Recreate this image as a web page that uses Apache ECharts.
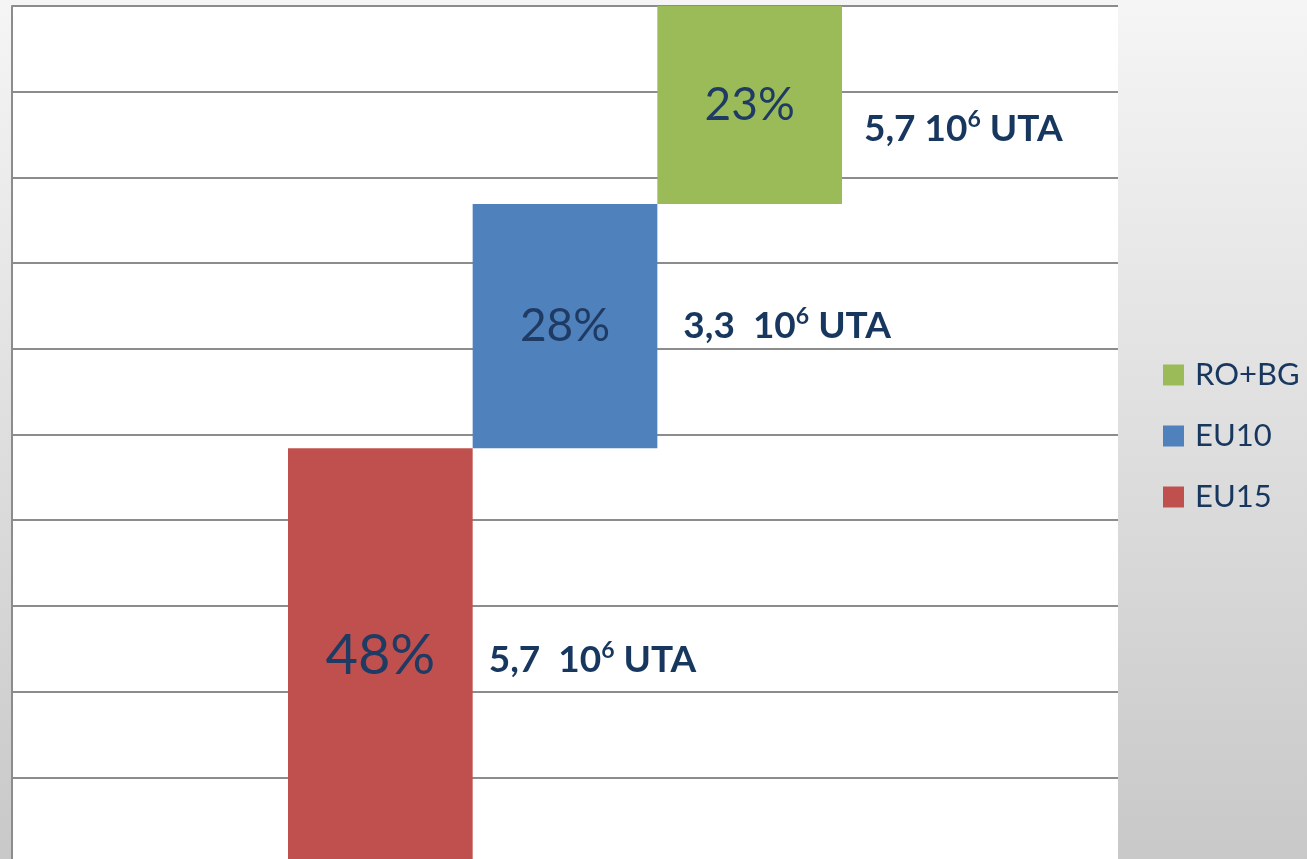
<!DOCTYPE html>
<html>
<head>
<meta charset="utf-8">
<script src="https://cdn.jsdelivr.net/npm/echarts@6/dist/echarts.min.js"></script>
<style>
html, body { margin: 0; padding: 0; overflow: hidden; }
#chart { width: 1307px; height: 863px; }
</style>
</head>
<body>
<div id="chart"></div>
<script>
// regions, bottom to top
var categories = ['EU15', 'EU10', 'RO+BG']
var shares = [48.4, 28.5, 23.1]
var shareLabels = ['48%', '28%', '23%']
var utaLabels = ['5,7  10', '3,3  10', '5,7 10']
var utaExponent = '6'
var utaUnit = ' UTA'
var legendOrder = ['RO+BG', 'EU10', 'EU15']

var colors = ['#c0504d', '#4f81bd', '#9bbb59']
var pctFontSize = [56, 46, 46]
var utaShift = [[-4, 4], [6, 0], [2, 24]]
var navy = '#1f3b63'

var bases = []
var acc = 0
shares.forEach(function (v) {
  bases.push(acc)
  acc += v
})

var chart = echarts.init(document.getElementById('chart'))

var series = [{
  type: 'bar',
  stack: 'a',
  xAxisIndex: 1,
  yAxisIndex: 1,
  silent: true,
  itemStyle: { color: 'transparent' },
  data: bases
}]

categories.forEach(function (name, i) {
  series.push({
    name: name,
    type: 'bar',
    stack: 'a',
    xAxisIndex: 1,
    yAxisIndex: 1,
    barCategoryGap: 0,
    barGap: '-100%',
    itemStyle: { color: colors[i] },
    label: {
      show: true,
      position: 'inside',
      color: navy,
      fontFamily: 'Lato',
      fontSize: pctFontSize[i],
      formatter: shareLabels[i]
    },
    data: shares.map(function (v, j) { return j === i ? v : '-' })
  })
})

series.push({
  type: 'bar',
  stack: 'b',
  xAxisIndex: 1,
  yAxisIndex: 1,
  silent: true,
  itemStyle: { color: 'transparent' },
  data: bases
})

series.push({
  type: 'bar',
  stack: 'b',
  xAxisIndex: 1,
  yAxisIndex: 1,
  silent: true,
  itemStyle: { color: 'transparent' },
  data: shares.map(function (v, i) {
    return {
      value: v,
      label: { offset: utaShift[i] }
    }
  }),
  label: {
    show: true,
    position: 'right',
    distance: 20,
    formatter: function (p) {
      return '{m|' + utaLabels[p.dataIndex] + '}{s|' + utaExponent + '}{m|' + utaUnit + '}'
    },
    rich: {
      m: { fontFamily: 'Lato', fontWeight: 'bold', fontSize: 37, color: '#17375e', lineHeight: 42 },
      s: { fontFamily: 'Lato', fontWeight: 'bold', fontSize: 23, color: '#17375e', lineHeight: 42, verticalAlign: 'top', padding: [0, 0, 16, 0] }
    }
  }
})

var option = {
  backgroundColor: {
    type: 'linear', x: 0, y: 0, x2: 0, y2: 1,
    colorStops: [{ offset: 0, color: '#f5f5f5' }, { offset: 1, color: '#c8c8c8' }]
  },
  animation: false,
  legend: {
    orient: 'vertical',
    left: 1163,
    top: 355,
    padding: 0,
    icon: 'rect',
    itemWidth: 21,
    itemHeight: 21,
    itemGap: 21,
    data: legendOrder,
    textStyle: { fontFamily: 'Lato', fontSize: 31, color: '#17375e', lineHeight: 40, padding: [0, 0, 0, 6] }
  },
  grid: [
    { left: 12, top: 6, right: 189, bottom: 0, show: true, backgroundColor: '#fff', borderWidth: 0 },
    { left: 288, top: 6, width: 554, bottom: 0 }
  ],
  xAxis: [
    { gridIndex: 0, type: 'category', data: [''], axisLine: { show: false }, axisTick: { show: false }, axisLabel: { show: false } },
    { gridIndex: 1, type: 'category', data: categories, axisLine: { show: false }, axisTick: { show: false }, axisLabel: { show: false } }
  ],
  yAxis: [
    {
      gridIndex: 0, type: 'value', min: 0, max: 100, interval: 10,
      axisLine: { show: true, lineStyle: { color: '#8c8c8c', width: 2 } },
      axisTick: { show: false },
      axisLabel: { show: false },
      splitLine: { lineStyle: { color: '#8c8c8c', width: 2 } }
    },
    {
      gridIndex: 1, type: 'value', min: 0, max: 100,
      axisLine: { show: false }, axisTick: { show: false }, axisLabel: { show: false }, splitLine: { show: false }
    }
  ],
  series: series
}

chart.setOption(option)
</script>
</body>
</html>
